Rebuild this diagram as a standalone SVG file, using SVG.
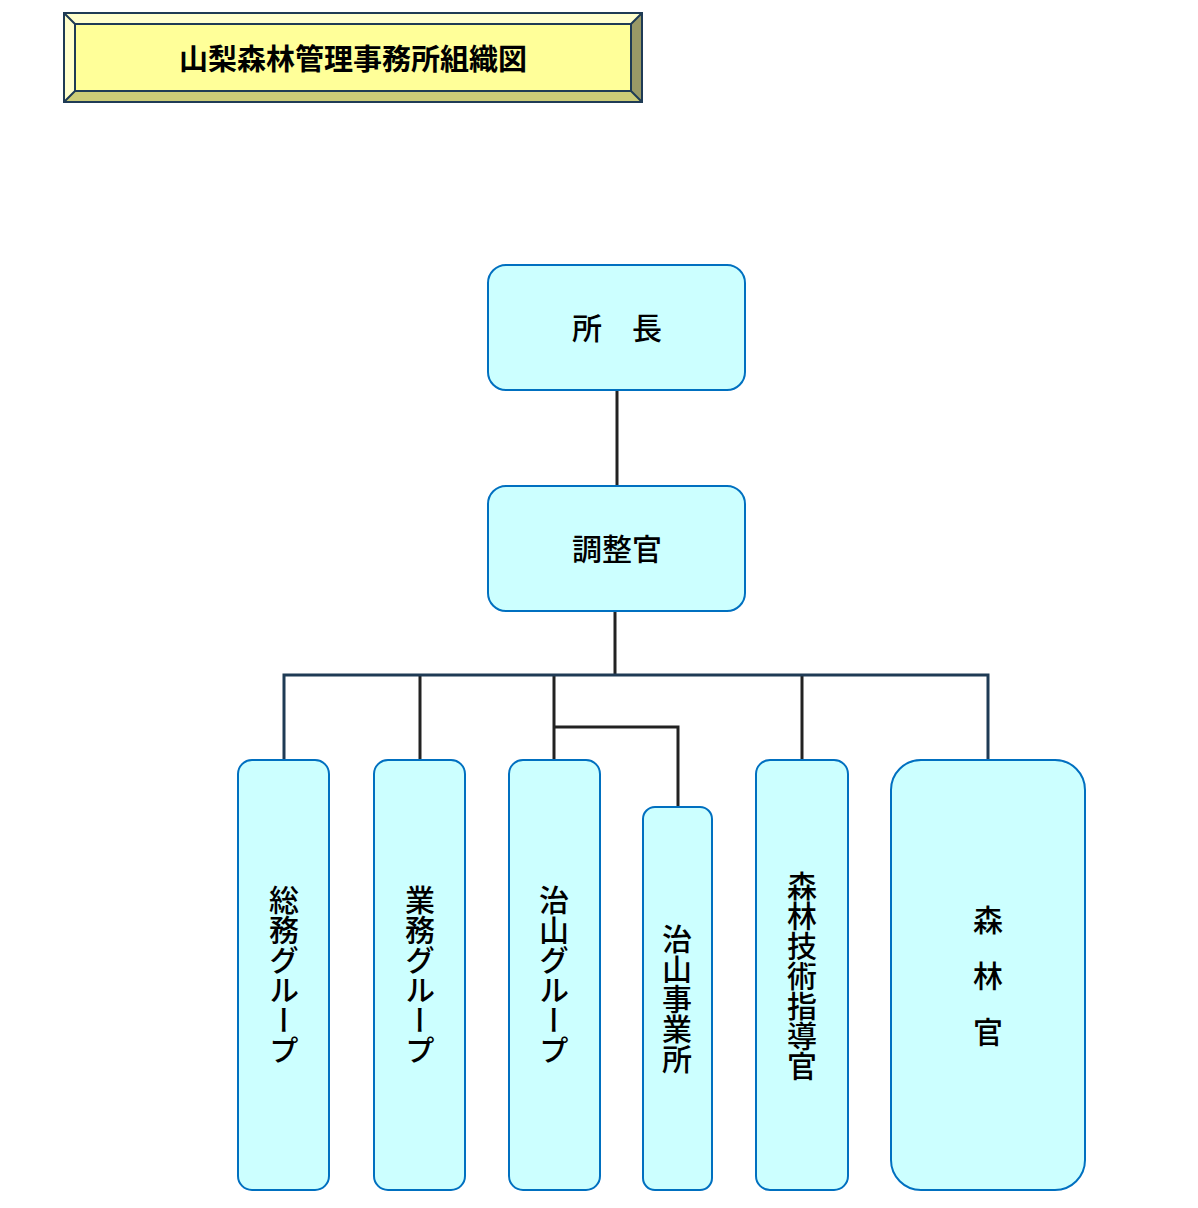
<svg xmlns="http://www.w3.org/2000/svg" width="1198" height="1208" viewBox="0 0 1198 1208">
<style>
.n{fill:#CCFFFF;stroke:#0070C0;stroke-width:2}
.t{font-family:"Noto Sans CJK JP","Noto Sans",sans-serif;font-size:30px;font-weight:500;fill:#000}
.v{writing-mode:vertical-rl;text-anchor:middle}
.c{fill:none;stroke:#222;stroke-width:3}
</style>
<rect width="1198" height="1208" fill="#fff"/>
<g id="title">
<rect x="64" y="13" width="578" height="89" fill="#FFFF99"/>
<polygon points="64,13 642,13 631,24 75,24" fill="#FFFFCC"/>
<polygon points="64,13 75,24 75,91 64,102" fill="#FFFFCC"/>
<polygon points="642,13 642,102 631,91 631,24" fill="#999966"/>
<polygon points="64,102 642,102 631,91 75,91" fill="#CCCC77"/>
<g fill="none" stroke="#1F3B55" stroke-width="2">
<rect x="64" y="13" width="578" height="89"/><rect x="75" y="24" width="556" height="67"/>
<path d="M64,13L75,24M642,13L631,24M64,102L75,91M642,102L631,91"/></g>
<text x="353" y="70" text-anchor="middle" class="t" style="font-weight:700;font-size:29px">山梨森林管理事務所組織図</text>
</g>
<g id="connectors">
<path class="c" d="M617,390V486M615,611V675M554,675V760M554,727H678V807M420,675V760M802,675V760"/>
<path d="M284,760V675H988V760" fill="none" stroke="#1F3B55" stroke-width="3"/>
</g>
<g id="shocho"><rect class="n" x="488" y="265" width="257" height="125" rx="18"/><text class="t" x="617" y="339" text-anchor="middle">所　長</text></g>
<g id="choseikan"><rect class="n" x="488" y="486" width="257" height="125" rx="18"/><text class="t" x="617" y="560" text-anchor="middle">調整官</text></g>
<g id="somu"><rect class="n" x="238" y="760" width="91" height="430" rx="14"/><text class="t v" x="284" y="975">総務グループ</text></g>
<g id="gyomu"><rect class="n" x="374" y="760" width="91" height="430" rx="14"/><text class="t v" x="420" y="975">業務グループ</text></g>
<g id="chisan"><rect class="n" x="509" y="760" width="91" height="430" rx="14"/><text class="t v" x="554" y="975">治山グループ</text></g>
<g id="chisanjigyo"><rect class="n" x="643" y="807" width="69" height="383" rx="12"/><text class="t v" x="677" y="999">治山事業所</text></g>
<g id="gijutsu"><rect class="n" x="756" y="760" width="92" height="430" rx="14"/><text class="t v" x="802" y="976">森林技術指導官</text></g>
<g id="shinrinkan"><rect class="n" x="891" y="760" width="194" height="430" rx="30"/>
<text class="t" x="988" y="931" text-anchor="middle">森</text><text class="t" x="988" y="987" text-anchor="middle">林</text><text class="t" x="988" y="1043" text-anchor="middle">官</text></g>
</svg>
